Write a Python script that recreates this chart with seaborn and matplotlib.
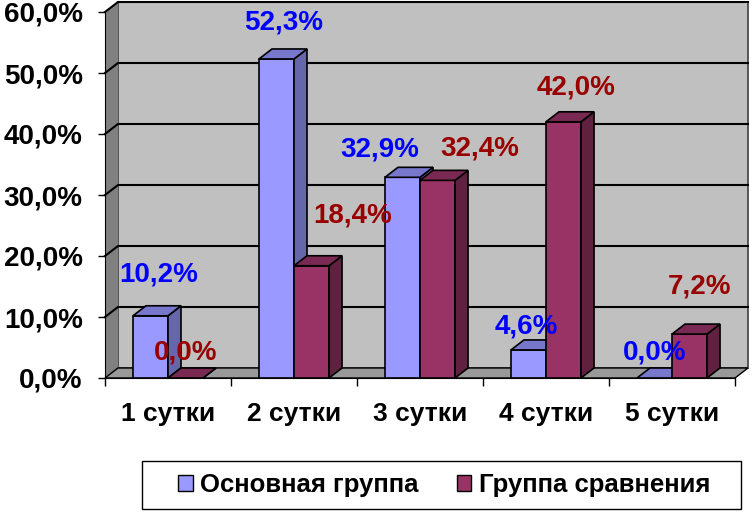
import pandas as pd
import seaborn as sns
import matplotlib.pyplot as plt
from matplotlib.patches import Polygon, Rectangle

days = ["1 сутки", "2 сутки", "3 сутки", "4 сутки", "5 сутки"]
groups = ["Основная группа", "Группа сравнения"]
main_group = [10.2, 52.3, 32.9, 4.6, 0.0]
compare_group = [0.0, 18.4, 32.4, 42.0, 7.2]
y_ticks = [0, 10, 20, 30, 40, 50, 60]

df = pd.DataFrame({
    "day": days * 2,
    "value": main_group + compare_group,
    "group": [groups[0]] * 5 + [groups[1]] * 5,
})

plt.rcParams['font.family'] = ['Liberation Sans', 'DejaVu Sans']
plt.rcParams['font.weight'] = 'bold'

# colours: front, side, top
front = ["#9999FF", "#993366"]
side = ["#6666AA", "#602040"]
top = ["#7777CC", "#7A2952"]
label_col = ["#0000FF", "#990000"]

fig = plt.figure(figsize=(7.52, 5.15), dpi=100)
ax = fig.add_axes([105 / 752, 1 - 378 / 515, 630 / 752, 366 / 515])
ax.patch.set_visible(False)

sns.barplot(data=df, x="day", y="value", hue="group", palette=front, width=0.556,
            saturation=1, edgecolor="black", linewidth=1.2, legend=False, ax=ax)
ax.set_xlim(-0.5, 4.5)
ax.set_ylim(0, 60)

# depth of the 3d box in data units (13 px right, 10 px up)
bb = ax.get_window_extent()
ddx = 13 / bb.width * 5
ddy = 10 / bb.height * 60

# walls
ax.add_patch(Rectangle((-0.5 + ddx, ddy), 5, 60, facecolor="#C0C0C0", edgecolor="#404040",
                       linewidth=1.2, zorder=0, clip_on=False))
ax.add_patch(Polygon([(-0.5, 0), (-0.5 + ddx, ddy), (-0.5 + ddx, 60 + ddy), (-0.5, 60)],
                     facecolor="#808080", edgecolor="none", zorder=0.5, clip_on=False))
ax.add_patch(Polygon([(-0.5, 0), (4.5, 0), (4.5 + ddx, ddy), (-0.5 + ddx, ddy)],
                     facecolor="#999999", edgecolor="black", linewidth=1, zorder=0.6, clip_on=False))
for v in y_ticks[1:]:
    ax.plot([-0.5, -0.5 + ddx, 4.5 + ddx], [v, v + ddy, v + ddy], color="black",
            linewidth=1.5, zorder=0.7, clip_on=False)

# 3d faces for the bars
bars = sorted([p for p in ax.patches if isinstance(p, Rectangle) and p.get_width() < 1],
              key=lambda p: p.get_x())
z = 2
for p in bars:
    x0, w, h = p.get_x(), p.get_width(), p.get_height()
    gi = 0 if p.get_facecolor()[2] > 0.9 else 1
    p.set_zorder(z)
    p.set_clip_on(False)
    ax.add_patch(Polygon([(x0 + w, 0), (x0 + w + ddx, ddy), (x0 + w + ddx, h + ddy), (x0 + w, h)],
                         facecolor=side[gi], edgecolor="black", linewidth=1.2, zorder=z, clip_on=False))
    ax.add_patch(Polygon([(x0, h), (x0 + w, h), (x0 + w + ddx, h + ddy), (x0 + ddx, h + ddy)],
                         facecolor=top[gi], edgecolor="black", linewidth=1.2, zorder=z, clip_on=False))
    z += 1

# data labels (offsets in pixels, as hand-placed in the original)
label_offsets = [
    [(2, 31), (1, 26), (-29, 18), (-9, 13), (-6, 15)],
    [(-6, 15), (35, 40), (36, 22), (6, 24), (3, 38)],
]
series = [main_group, compare_group]
for gi in range(2):
    shift = (gi - 0.5) * 0.278
    for i, v in enumerate(series[gi]):
        ax.annotate(f"{v:.1f}%".replace(".", ","), (i + shift + ddx / 2, v + ddy),
                    xytext=label_offsets[gi][i], textcoords="offset pixels",
                    ha="center", va="center", color=label_col[gi], fontsize=20,
                    fontweight="bold", zorder=20, annotation_clip=False)

# axes
ax.spines[["top", "right"]].set_visible(False)
ax.spines["left"].set_zorder(1)
ax.spines["bottom"].set_zorder(1)
ax.set_yticks(y_ticks)
ax.set_yticklabels([f"{t:.1f}%".replace(".", ",") for t in y_ticks])
ax.tick_params(axis="y", length=5, width=1, pad=11, labelsize=20)
ax.set_xticks(range(5))
ax.set_xticklabels(days)
ax.set_xticks([i - 0.5 for i in range(6)], minor=True)
ax.tick_params(axis="x", which="major", length=0, pad=17, labelsize=19)
ax.tick_params(axis="x", which="minor", length=6, width=1)
ax.set_xlabel("")
ax.set_ylabel("")

# legend
handles = [Rectangle((0, 0), 1, 1, facecolor=c, edgecolor="black", linewidth=1) for c in front]
fig.legend(handles, groups, loc="center", bbox_to_anchor=(0.591, 0.058), ncol=2, frameon=False,
           fontsize=18.5, handlelength=0.55, handleheight=0.55, handletextpad=0.3, columnspacing=1.5)
fig.add_artist(Rectangle((142 / 752, 1 - 509 / 515), 599 / 752, 48 / 515, transform=fig.transFigure,
                         facecolor="none", edgecolor="black", linewidth=1))

plt.savefig("out.png", dpi=100)
